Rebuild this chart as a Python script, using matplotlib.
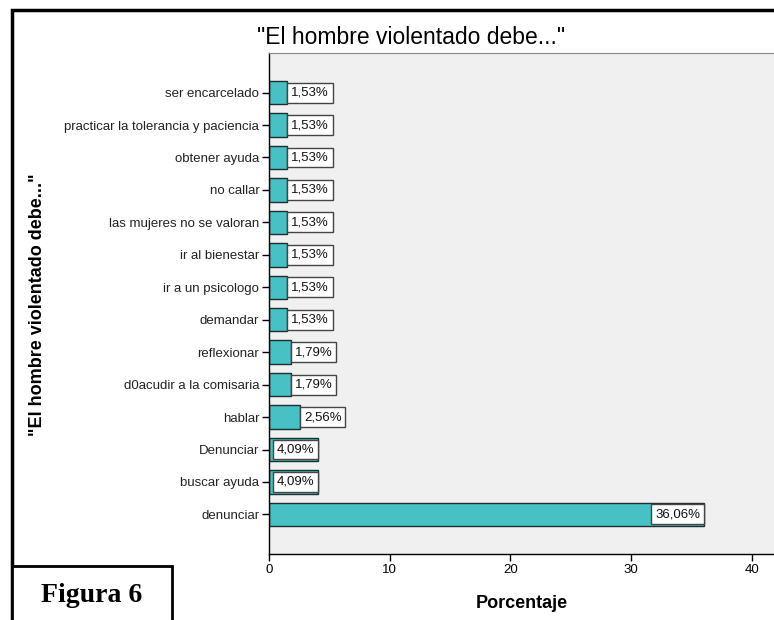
import matplotlib
matplotlib.use("Agg")
import matplotlib.pyplot as plt
from matplotlib.patches import Rectangle

plt.rcParams['font.family'] = ['Liberation Sans', 'DejaVu Sans']

# datos de la figura
categorias = ["ser encarcelado", "practicar la tolerancia y paciencia", "obtener ayuda",
              "no callar", "las mujeres no se valoran", "ir al bienestar",
              "ir a un psicologo", "demandar", "reflexionar", "d0acudir a la comisaria",
              "hablar", "Denunciar", "buscar ayuda", "denunciar"]
porcentajes = [1.53, 1.53, 1.53, 1.53, 1.53, 1.53, 1.53, 1.53,
               1.79, 1.79, 2.56, 4.09, 4.09, 36.06]
ticks_x = [0, 10, 20, 30, 40]

W, H = 774, 620
fig = plt.figure(figsize=(W / 100, H / 100), dpi=100)
fig.patch.set_facecolor('white')

# area del grafico (en pixeles de la imagen)
izq, der, arriba, abajo = 269, 774, 53, 554
ax = fig.add_axes([izq / W, 1 - abajo / H, (der - izq) / W, (abajo - arriba) / H])
ax.set_facecolor('#F0F0F0')

n = len(categorias)
pos_y = list(range(n - 1, -1, -1))  # primera categoria arriba
ax.barh(pos_y, porcentajes, height=0.72, color='#48C1C5', edgecolor='#1E2E2E', linewidth=1, zorder=2)

# etiquetas de valor con caja blanca
fs_lab = 9.5
pad = 0.3
for y, v in zip(pos_y, porcentajes):
    txt = f"{v:.2f}%".replace('.', ',')
    if v >= 4:
        ha, off = 'right', -pad * fs_lab
    else:
        ha, off = 'left', pad * fs_lab
    ax.annotate(txt, (v, y), xytext=(off, 0), textcoords='offset points', ha=ha, va='center',
                fontsize=fs_lab, color='#111111', zorder=3,
                bbox=dict(boxstyle=f'square,pad={pad}', fc='white', ec='#444444', lw=1))

ax.set_xlim(0, (der - izq) / 12.07)
ax.set_ylim(-1.22, n - 1 + 1.22)
ax.set_xticks(ticks_x)
ax.set_xticklabels([str(t) for t in ticks_x], fontsize=9.5)
ax.set_yticks(pos_y)
ax.set_yticklabels(categorias, fontsize=9.5, color='#222222')
ax.tick_params(axis='both', direction='out', length=5, width=1, color='black', pad=2)

for lado in ['left', 'bottom']:
    ax.spines[lado].set_color('black')
    ax.spines[lado].set_linewidth(1)
ax.spines['top'].set_color('#888888')
ax.spines['right'].set_visible(False)

ax.set_xlabel("Porcentaje", fontsize=13, fontweight='bold', labelpad=14)

# titulo y etiqueta del eje y en posiciones de la figura
fig.text(411 / W, 1 - 38 / H, '"El hombre violentado debe..."', fontsize=16.5,
         ha='center', va='center')
fig.text(38 / W, 1 - 305 / H, '"El hombre violentado debe..."', fontsize=13,
         fontweight='bold', rotation=90, ha='center', va='center')

# marco exterior
fig.add_artist(Rectangle((12 / W, -0.2), 1.2, 1.2 - 10 / H, transform=fig.transFigure,
                         fill=False, ec='black', lw=2.5))

# recuadro "Figura 6"
fig.add_artist(Rectangle((12 / W, -0.2), (172 - 12) / W, 0.2 + 1 - 566 / H,
                         transform=fig.transFigure, fc='white', ec='black', lw=2))
fig.text(92 / W, 1 - 595 / H, "Figura 6", fontsize=20, fontweight='bold',
         family=['Liberation Serif', 'DejaVu Serif'], ha='center', va='center')

fig.savefig("out.png", dpi=100)
